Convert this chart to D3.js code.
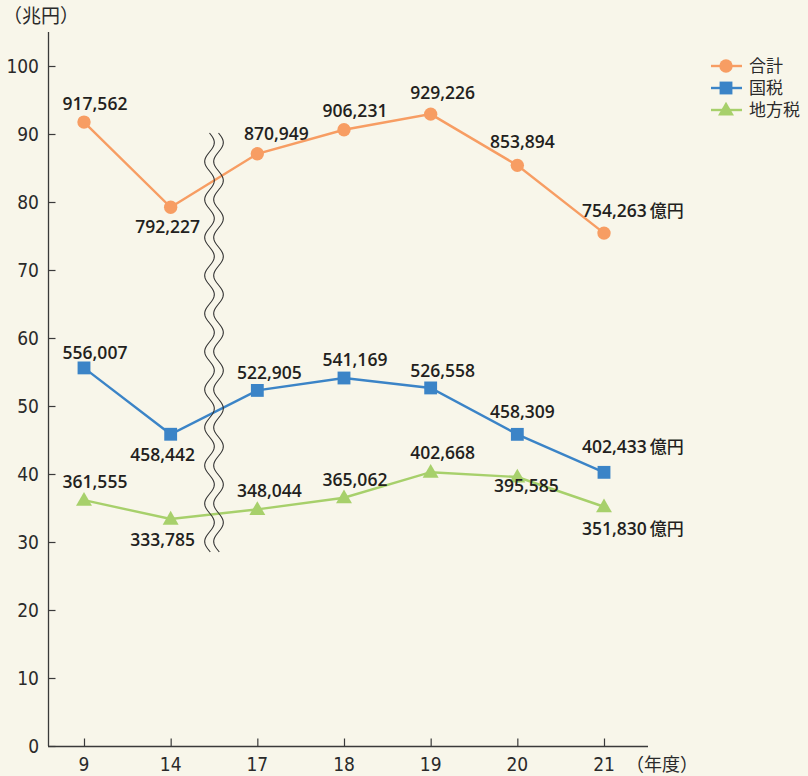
<!DOCTYPE html>
<html><head><meta charset="utf-8">
<script src="https://cdn.jsdelivr.net/npm/d3@7"></script>
<style>
html,body{margin:0;padding:0;background:#f8f6ea;}
svg{display:block;}
text{font-family:"Open Sans","Noto Sans CJK JP",sans-serif;fill:#231f20;}
</style></head>
<body>
<script>
const years = ["9","14","17","18","19","20","21"];
const totalTax = [917562, 792227, 870949, 906231, 929226, 853894, 754263];
const nationalTax = [556007, 458442, 522905, 541169, 526558, 458309, 402433];
const localTax = [361555, 333785, 348044, 365062, 402668, 395585, 351830];
const yTicks = [0,10,20,30,40,50,60,70,80,90,100];
const seriesNames = ["合計","国税","地方税"];

const W = 808, H = 776;
const svg = d3.select("body").append("svg").attr("width", W).attr("height", H);
svg.append("rect").attr("width", W).attr("height", H).attr("fill", "#f8f6ea");

const x = d3.scalePoint().domain(years).range([84, 604]);
const y = d3.scaleLinear().domain([0, 100]).range([746, 66]);

const tickFont = "'Liberation Sans Narrow','DejaVu Sans Condensed',sans-serif";
// axes
const axisColor = "#3a3a3a";
svg.append("line").attr("x1", 48.5).attr("x2", 48.5).attr("y1", 32).attr("y2", 746).attr("stroke", axisColor).attr("stroke-width", 1.3);
svg.append("line").attr("x1", 48).attr("x2", 648).attr("y1", 746.5).attr("y2", 746.5).attr("stroke", axisColor).attr("stroke-width", 1.5);

const yAxis = d3.axisRight(y).tickValues(yTicks).tickSize(7).tickFormat(d => "");
const yg = svg.append("g").attr("transform", "translate(48.5,0)").call(yAxis);
yg.select(".domain").remove();
yg.selectAll(".tick line").attr("stroke", axisColor).attr("stroke-width", 1.2);
svg.append("g").selectAll("text").data(yTicks).join("text")
  .attr("x", 39).attr("y", d => y(d) + 7)
  .attr("text-anchor", "end").style("font-size", "19px").style("font-weight", "400")
  .style("font-family", tickFont).style("fill", "#2a2a2a")
  .text(d => d);

const xAxis = d3.axisTop(x).tickSize(8).tickFormat(d => "");
const xg = svg.append("g").attr("transform", "translate(0,746.5)").call(xAxis);
xg.select(".domain").remove();
xg.selectAll(".tick line").attr("stroke", axisColor).attr("stroke-width", 1.2);
svg.append("g").selectAll("text").data(years).join("text")
  .attr("x", d => x(d)).attr("y", 771)
  .attr("text-anchor", "middle").style("font-size", "19px").style("font-weight", "400")
  .style("font-family", tickFont).style("fill", "#2a2a2a")
  .text(d => d);

svg.append("text").attr("x", 626).attr("y", 771).style("font-size", "18px")
  .style("font-family", "'Noto Sans CJK JP',sans-serif").style("fill", "#2a2a2a").text("（年度）");
svg.append("text").attr("x", 3).attr("y", 23).style("font-size", "19px")
  .style("font-family", "'Noto Sans CJK JP',sans-serif").style("fill", "#2a2a2a").text("（兆円）");

const colors = ["#f79d63", "#3b84c7", "#a7d06b"];
const data = [totalTax, nationalTax, localTax];

const line = d3.line().x((d, i) => x(years[i])).y(d => y(d / 10000));
data.forEach((s, k) => {
  svg.append("path").attr("d", line(s)).attr("fill", "none")
    .attr("stroke", colors[k]).attr("stroke-width", 2.4);
});

// wavy break
function wave(cx, y0, y1, amp, period) {
  const pts = [];
  for (let yy = y0; yy <= y1; yy += 1) {
    pts.push([cx + amp * Math.sin((yy - y0) / period * 2 * Math.PI), yy]);
  }
  return d3.line()(pts);
}
[-4.5, 4.5].forEach(off => {
  svg.append("path").attr("d", wave(214 + off, 133, 552, 4.8, 38))
    .attr("fill", "none").attr("stroke", "#333").attr("stroke-width", 1.1);
});

// markers
const sym = [d3.symbolCircle, d3.symbolSquare, d3.symbolTriangle];
const symSize = [140, 165, 110];
data.forEach((s, k) => {
  svg.append("g").selectAll("path").data(s).join("path")
    .attr("transform", (d, i) => `translate(${x(years[i])},${y(d / 10000) + (k === 2 ? 1 : 0)})`)
    .attr("d", d3.symbol().type(sym[k]).size(symSize[k]))
    .attr("fill", colors[k]);
});

// labels: offsets (dx, baseline dy)
const labelOffsets = [
  [[11,-12],[-3,26],[19,-14],[11,-13],[12,-15],[5,-17],[-22,-16]],
  [[11,-9],[-8,27],[12,-11],[11,-12],[12,-11],[5,-16],[-22,-19]],
  [[11,-12],[-8,27],[12,-12],[11,-12],[12,-13],[9,15],[-22,28]]
];
data.forEach((s, k) => {
  s.forEach((v, i) => {
    const [dx, dy] = labelOffsets[k][i];
    const t = svg.append("text")
      .attr("x", x(years[i]) + dx).attr("y", y(v / 10000) + dy)
      .attr("text-anchor", i === 6 ? "start" : "middle")
      .style("font-size", "17.5px").style("font-weight", "600");
    t.append("tspan").text(d3.format(",")(v));
    if (i === 6) {
      t.append("tspan").attr("dx", 3).style("font-family", "'Noto Sans CJK JP',sans-serif")
        .style("font-weight", "500").style("font-size", "17px").text("億円");
    }
  });
});

// legend
const lg = svg.append("g");
seriesNames.forEach((n, k) => {
  const yy = 66 + k * 22;
  lg.append("line").attr("x1", 711).attr("x2", 742).attr("y1", yy).attr("y2", yy)
    .attr("stroke", colors[k]).attr("stroke-width", 2.4);
  lg.append("path").attr("transform", `translate(726,${yy + (k === 2 ? 1 : 0)})`)
    .attr("d", d3.symbol().type(sym[k]).size(symSize[k])).attr("fill", colors[k]);
  lg.append("text").attr("x", 749).attr("y", yy + 6).style("font-size", "17px")
    .style("font-family", "'Noto Sans CJK JP',sans-serif").style("fill", "#2a2a2a").text(n);
});
</script>
</body></html>
